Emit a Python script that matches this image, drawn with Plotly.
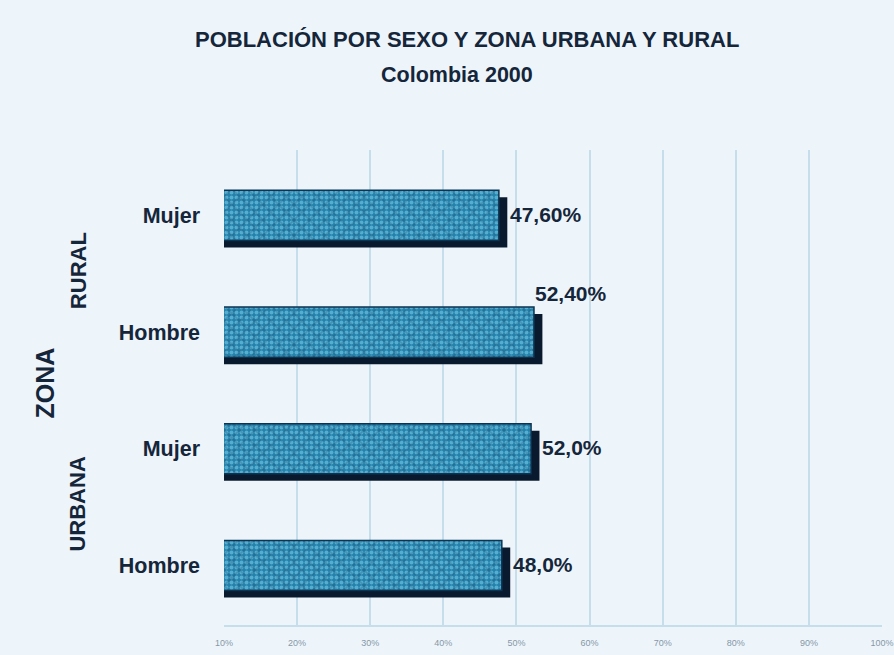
import plotly.graph_objects as go

categories = ["Hombre", "Mujer", "Hombre", "Mujer"]   # bottom to top
values = [48.0, 52.0, 52.4, 47.6]
value_labels = ["48,0%", "52,0%", "52,40%", "47,60%"]
zone_labels = ["URBANA", "RURAL"]
axis_title = "ZONA"
title_text = "POBLACIÓN POR SEXO Y ZONA URBANA Y RURAL"
subtitle_text = "Colombia 2000"
tick_vals = [10, 20, 30, 40, 50, 60, 70, 80, 90, 100]
tick_text = ["10%", "20%", "30%", "40%", "50%", "60%", "70%", "80%", "90%", "100%"]

ypos = list(range(len(categories)))
dark = "#16263a"
ff = "Liberation Sans, Arial, sans-serif"

fig = go.Figure()
# shadow bars (drawn on a slightly shifted hidden axis)
fig.add_trace(go.Bar(
    x=values, y=ypos, orientation="h", xaxis="x2",
    width=0.43, offset=-0.275,
    marker=dict(color="#0a1a2e", line=dict(width=0)),
    hoverinfo="skip", showlegend=False))
# main textured bars
fig.add_trace(go.Bar(
    x=values, y=ypos, orientation="h", xaxis="x3",
    width=0.43, offset=-0.215,
    marker=dict(color="#2a8fb8", line=dict(color="#0d3350", width=1.5),
                pattern=dict(shape=".", fgcolor="#86dcf4", bgcolor="#2580aa",
                             size=5, solidity=0.5)),
    showlegend=False))
fig.add_trace(go.Bar(
    x=values, y=ypos, orientation="h", xaxis="x3",
    width=0.43, offset=-0.215,
    marker=dict(color="rgba(0,0,0,0)", line=dict(width=0),
                pattern=dict(shape="x", fgcolor="rgba(15,60,95,0.5)",
                             bgcolor="rgba(0,0,0,0)", size=11, solidity=0.3)),
    hoverinfo="skip", showlegend=False))

annotations = []
for i, (v, lab) in enumerate(zip(values, value_labels)):
    above = i == 2
    annotations.append(dict(
        x=v, y=ypos[i], xref="x", yref="y", text="<b>%s</b>" % lab,
        showarrow=False, xanchor="center" if above else "left", yanchor="middle",
        xshift=37 if above else 9, yshift=39 if above else 1,
        font=dict(size=21, color=dark, family=ff)))

annotations += [
    dict(x=-0.222, y=0.53, xref="paper", yref="y", text="<b>%s</b>" % zone_labels[0],
         textangle=-90, showarrow=False, xanchor="center", yanchor="middle",
         font=dict(size=22, color=dark, family=ff)),
    dict(x=-0.222, y=2.53, xref="paper", yref="y", text="<b>%s</b>" % zone_labels[1],
         textangle=-90, showarrow=False, xanchor="center", yanchor="middle",
         font=dict(size=22, color=dark, family=ff)),
    dict(x=-0.272, y=1.56, xref="paper", yref="y", text="<b>%s</b>" % axis_title,
         textangle=-90, showarrow=False, xanchor="center", yanchor="middle",
         font=dict(size=25, color=dark, family=ff)),
    dict(x=0.369, y=1.232, xref="paper", yref="paper", text="<b>%s</b>" % title_text,
         showarrow=False, xanchor="center", yanchor="middle",
         font=dict(size=22, color=dark, family=ff)),
    dict(x=0.354, y=1.158, xref="paper", yref="paper", text="<b>%s</b>" % subtitle_text,
         showarrow=False, xanchor="center", yanchor="middle",
         font=dict(size=21.5, color=dark, family=ff)),
]

fig.update_layout(
    width=894, height=655,
    margin=dict(l=224, r=12, t=150, b=30, autoexpand=False),
    paper_bgcolor="#edf5fb", plot_bgcolor="#edf5fb",
    barmode="overlay",
    xaxis=dict(range=[10, 100], tickvals=tick_vals, ticktext=tick_text,
               showgrid=True, gridcolor="#c6ddeb", gridwidth=2,
               showline=True, linecolor="#c6ddeb", linewidth=2,
               zeroline=False, ticks="", ticklabelstandoff=8, automargin=False,
               tickfont=dict(size=9, color="#8797a6", family=ff)),
    xaxis2=dict(range=[10 - 1.15, 100 - 1.15], overlaying="x", visible=False),
    xaxis3=dict(range=[10, 100], overlaying="x", visible=False),
    yaxis=dict(range=[-0.51, 3.56], tickvals=ypos,
               ticktext=["<b>%s</b>" % c for c in categories],
               showgrid=False, zeroline=False, ticks="", ticklabelstandoff=23,
               automargin=False,
               tickfont=dict(size=21.5, color=dark, family=ff)),
    annotations=annotations,
)

fig.write_html("out.html", post_script="document.body.style.margin='0';",
               config={"displayModeBar": False})
